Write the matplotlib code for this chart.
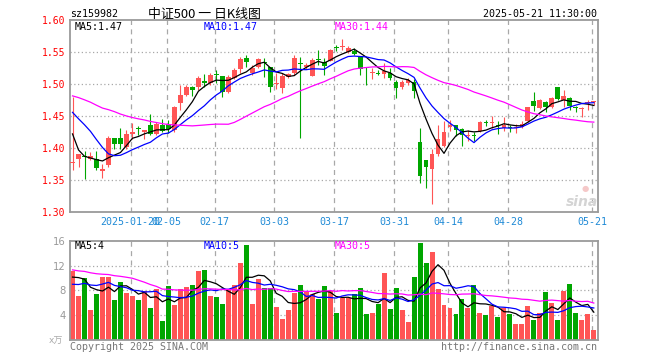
import numpy as np
import pandas as pd
import matplotlib
matplotlib.use('Agg')
import matplotlib.pyplot as plt

# ---------------- data ----------------
opens = [1.377, 1.383, 1.388, 1.383, 1.383, 1.3635, 1.373, 1.415, 1.415, 1.401,
         1.4225, 1.430, 1.425, 1.4355, 1.422, 1.4355, 1.4375, 1.428, 1.471, 1.483,
         1.4958, 1.495, 1.5047, 1.501, 1.5155, 1.5125, 1.488, 1.509, 1.523, 1.540,
         1.517, 1.526, 1.5345, 1.526, 1.500, 1.494, 1.511, 1.517, 1.532, 1.527,
         1.513, 1.5385, 1.5344, 1.5365, 1.5575, 1.558, 1.550, 1.551, 1.542, 1.5255,
         1.517, 1.5165, 1.5156, 1.517, 1.503, 1.495, 1.501, 1.503, 1.410, 1.382,
         1.367, 1.390, 1.4036, 1.4323, 1.4355, 1.430, 1.418, 1.4198, 1.426, 1.4395,
         1.4385, 1.4355, 1.4315, 1.4328, 1.4318, 1.4323, 1.4427, 1.474, 1.4625, 1.472,
         1.464, 1.4953, 1.4755, 1.478, 1.463, 1.461, 1.470, 1.4715]
highs = [1.480, 1.391, 1.396, 1.394, 1.396, 1.3755, 1.419, 1.415, 1.431, 1.428,
         1.4385, 1.4345, 1.428, 1.4525, 1.440, 1.445, 1.444, 1.4655, 1.498, 1.4985,
         1.4975, 1.5125, 1.516, 1.5167, 1.522, 1.513, 1.514, 1.5255, 1.5427, 1.545,
         1.530, 1.5406, 1.5406, 1.526, 1.5165, 1.517, 1.517, 1.545, 1.542, 1.533,
         1.5406, 1.5536, 1.5406, 1.555, 1.5615, 1.571, 1.5589, 1.556, 1.543, 1.527,
         1.525, 1.5214, 1.533, 1.525, 1.507, 1.5068, 1.510, 1.508, 1.431, 1.382,
         1.398, 1.4354, 1.4417, 1.4443, 1.4365, 1.431, 1.4287, 1.4245, 1.4427, 1.4432,
         1.4505, 1.4427, 1.4484, 1.4365, 1.438, 1.4417, 1.464, 1.4875, 1.477, 1.473,
         1.479, 1.4953, 1.4906, 1.479, 1.4651, 1.4635, 1.4745, 1.474]
lows = [1.365, 1.370, 1.351, 1.381, 1.365, 1.353, 1.370, 1.399, 1.399, 1.398,
        1.4135, 1.420, 1.4136, 1.420, 1.420, 1.4255, 1.424, 1.4255, 1.460, 1.481,
        1.4805, 1.4905, 1.496, 1.4985, 1.501, 1.480, 1.4855, 1.508, 1.5167, 1.527,
        1.5146, 1.525, 1.5104, 1.488, 1.492, 1.486, 1.5095, 1.514, 1.415, 1.5234,
        1.512, 1.530, 1.5146, 1.5354, 1.551, 1.5536, 1.5484, 1.5448, 1.5135, 1.4985,
        1.5083, 1.5135, 1.509, 1.507, 1.478, 1.4927, 1.4985, 1.478, 1.345, 1.338,
        1.3125, 1.387, 1.4016, 1.426, 1.418, 1.4026, 1.4104, 1.4104, 1.4245, 1.435,
        1.4313, 1.4224, 1.426, 1.4245, 1.4234, 1.431, 1.440, 1.4573, 1.461, 1.4562,
        1.4625, 1.4755, 1.4646, 1.459, 1.4562, 1.4484, 1.459, 1.4677]
closes = [1.378, 1.390, 1.386, 1.387, 1.368, 1.3677, 1.415, 1.407, 1.407, 1.422,
          1.425, 1.429, 1.4276, 1.422, 1.4375, 1.427, 1.429, 1.4635, 1.483, 1.4958,
          1.4906, 1.510, 1.501, 1.514, 1.5145, 1.488, 1.5115, 1.522, 1.539, 1.534,
          1.5245, 1.539, 1.5335, 1.496, 1.501, 1.513, 1.5155, 1.540, 1.531, 1.530,
          1.538, 1.5375, 1.5276, 1.5536, 1.5565, 1.559, 1.556, 1.547, 1.524, 1.5245,
          1.5175, 1.5158, 1.5208, 1.509, 1.494, 1.503, 1.506, 1.489, 1.357, 1.371,
          1.3906, 1.4146, 1.425, 1.4365, 1.4287, 1.421, 1.421, 1.4188, 1.4406, 1.4385,
          1.4393, 1.4345, 1.4365, 1.4318, 1.4323, 1.4375, 1.4635, 1.4661, 1.4755, 1.4635,
          1.478, 1.4771, 1.4818, 1.4651, 1.462, 1.462, 1.4714, 1.4719]
volumes = [11.18, 7.1, 10.0, 4.84, 7.42, 10.1, 10.2, 6.45, 9.35, 7.58,
           7.15, 6.45, 7.9, 5.16, 8.17, 3.12, 8.7, 5.65, 8.23, 8.5,
           8.87, 11.13, 11.3, 7.1, 6.94, 5.8, 8.17, 8.82, 12.42, 15.32,
           5.8, 9.84, 8.33, 8.33, 5.32, 3.39, 4.84, 7.58, 8.87, 7.9,
           7.42, 6.6, 8.7, 7.9, 4.4, 6.72, 6.72, 7.37, 8.39, 4.19,
           4.35, 5.8, 10.8, 5.0, 8.39, 4.84, 2.9, 10.16, 15.65, 12.42,
           14.19, 8.23, 5.65, 5.16, 4.19, 6.6, 5.16, 8.87, 4.35, 4.03,
           5.54, 3.7, 5.16, 4.19, 2.58, 2.58, 5.48, 3.23, 4.35, 7.74,
           5.97, 3.23, 7.9, 9.03, 4.35, 3.23, 4.19, 1.61]

# estimated closes / volumes of the 29 sessions before the window (only feed the MAs)
prior_closes = [1.47, 1.49, 1.50, 1.51, 1.50, 1.49, 1.50, 1.52, 1.51, 1.50,
                1.49, 1.48, 1.49, 1.49, 1.48, 1.47, 1.48,
                1.50, 1.51, 1.506,
                1.49, 1.48, 1.49, 1.497, 1.49,
                1.515, 1.436, 1.400, 1.381]
prior_volumes = [12, 12.5, 11.5, 12, 12.5, 11.7, 12, 12.5, 12, 12,
                 16, 17.5, 16.5, 17, 16.3,
                 9.5, 8.5, 9.2, 9.0, 9.0,
                 7.5, 8.0, 7.6, 8.2, 7.8,
                 7.5, 11.3, 11.3, 9.4]

holidays = ['2025-01-28', '2025-01-29', '2025-01-30', '2025-01-31', '2025-02-03',
            '2025-02-04', '2025-04-04', '2025-05-01', '2025-05-02', '2025-05-05']
tick_dates = ['2025-01-20', '2025-02-05', '2025-02-17', '2025-03-03', '2025-03-17',
              '2025-03-31', '2025-04-14', '2025-04-28', '2025-05-21']
tick_labels = ['2025-01-20', '02-05', '02-17', '03-03', '03-17',
               '03-31', '04-14', '04-28', '05-21']

code = 'sz159982'
title = '中证500 一 日K线图'
stamp = '2025-05-21 11:30:00'

# ---------------- derived ----------------
dates = [d for d in pd.bdate_range('2025-01-06', '2025-05-21').strftime('%Y-%m-%d')
         if d not in holidays]
n = len(closes)
x = np.arange(n)
o = np.array(opens); c = np.array(closes); h = np.array(highs); l = np.array(lows)
v = np.array(volumes)

def ma(prior, vals, k):
    s = pd.Series(list(prior) + list(vals)).rolling(k).mean().to_numpy()
    return s[len(prior):]

ma5, ma10, ma30 = ma(prior_closes, closes, 5), ma(prior_closes, closes, 10), ma(prior_closes, closes, 30)
vma5, vma10, vma30 = ma(prior_volumes, volumes, 5), ma(prior_volumes, volumes, 10), ma(prior_volumes, volumes, 30)

RED = '#ff5555'
GREEN = '#00a600'
up = c >= o
cols = np.where(up, RED, GREEN)

W, H = 660, 360
fig = plt.figure(figsize=(W / 100, H / 100), dpi=100)
def fx(px): return px / W
def fy(py): return 1 - py / H

L_, R_ = 70, 598
ax1 = fig.add_axes([fx(L_), fy(212), fx(R_) - fx(L_), fy(20) - fy(212)])
ax2 = fig.add_axes([fx(L_), fy(340), fx(R_) - fx(L_), fy(240.7) - fy(340)])

SP = '#9a9a9a'
GRID = '#a8a8a8'
tick_pos = [dates.index(d) - 0.3 for d in tick_dates]
for ax in (ax1, ax2):
    ax.set_xlim(-0.42, n - 1 + 0.7)
    for s in ax.spines.values():
        s.set_color(SP)
        s.set_linewidth(1.3)
    ax.set_xticks(tick_pos)
    ax.tick_params(length=0)
    for t in tick_pos:
        ax.axvline(t, color=GRID, lw=0.9, ls=(0, (4, 3.5)), zorder=0)

# ----- price panel -----
ax1.set_ylim(1.30, 1.60)
pt = [1.30, 1.35, 1.40, 1.45, 1.50, 1.55, 1.60]
ax1.set_yticks(pt)
ax1.set_yticklabels([f'{p:.2f}' for p in pt], color='#ff0000',
                    fontsize=7.0, family='DejaVu Sans Mono')
for p in pt[1:-1]:
    ax1.axhline(p, color=GRID, lw=0.9, ls=(0, (1, 2)), zorder=0)
ax1.set_xticklabels(tick_labels, color='#1f8ad6', fontsize=7.2, family='DejaVu Sans Mono')
ax1.tick_params(axis='x', pad=3.5)
ax1.tick_params(axis='y', pad=3)

ax1.vlines(x, l, h, colors=cols, lw=0.8, zorder=2)
body_lo = np.minimum(o, c)
body_h = np.maximum(np.abs(c - o), 0.0016)
ax1.bar(x, body_h, 0.8, bottom=body_lo, color=cols, lw=0, zorder=3)
ax1.plot(x, ma5, color='black', lw=0.9, zorder=4)
ax1.plot(x, ma10, color='#0000ff', lw=0.9, zorder=4)
ax1.plot(x, ma30, color='#ff00ff', lw=0.9, zorder=4)

# ----- volume panel -----
ax2.set_ylim(0, 16)
vt = [4, 8, 12, 16]
ax2.set_yticks(vt)
ax2.set_yticklabels([str(t) for t in vt], color='#999999', fontsize=7.2)
ax2.set_xticklabels([])
ax2.tick_params(axis='y', pad=3)
for t in vt[:-1]:
    ax2.axhline(t, color=GRID, lw=0.9, ls=(0, (1, 2)), zorder=0)
ax2.bar(x, v, 0.83, color=cols, lw=0, zorder=2)
ax2.plot(x, vma5, color='black', lw=0.9, zorder=4)
ax2.plot(x, vma10, color='#0000ff', lw=0.9, zorder=4)
ax2.plot(x, vma30, color='#ff00ff', lw=0.9, zorder=4)

mono = 'DejaVu Sans Mono'
fs = 7.2
# header
fig.text(fx(70), fy(14), code, fontsize=fs, family=mono, va='center', ha='left')
fig.text(fx(148), fy(14), title, fontsize=9.3,
         family=['Noto Sans CJK SC', 'DejaVu Sans'], va='center', ha='left')
fig.text(fx(597), fy(14), stamp, fontsize=fs, family=mono, va='center', ha='right')

# MA legends
fig.text(fx(75), fy(27), f'MA5:{ma5[-1]:.2f}', color='black', fontsize=fs, family=mono, va='center')
fig.text(fx(204), fy(27), f'MA10:{ma10[-1]:.2f}', color='#0000ff', fontsize=fs, family=mono, va='center')
fig.text(fx(335), fy(27), f'MA30:{ma30[-1]:.2f}', color='#ff00ff', fontsize=fs, family=mono, va='center')
fig.text(fx(75), fy(246), f'MA5:{int(vma5[-1])}', color='black', fontsize=fs, family=mono, va='center')
fig.text(fx(204), fy(246), f'MA10:{int(vma10[-1])}', color='#0000ff', fontsize=fs, family=mono, va='center')
fig.text(fx(335), fy(246), f'MA30:{int(vma30[-1])}', color='#ff00ff', fontsize=fs, family=mono, va='center')

# footer
fig.text(fx(49), fy(341), 'x万', color='#aaaaaa', fontsize=6.5,
         family=['DejaVu Sans', 'Noto Sans CJK SC'], va='center')
fig.text(fx(70), fy(347), 'Copyright 2025 SINA.COM', color='#777777', fontsize=fs,
         family=mono, va='center')
fig.text(fx(597), fy(347), 'http://finance.sina.com.cn', color='#777777', fontsize=fs,
         family=mono, va='center', ha='right')

# sina watermark
fig.text(fx(582), fy(202), 'sina', color='#d4d4d4', fontsize=10, fontstyle='italic',
         fontweight='bold', ha='center', va='center')
fig.text(fx(585), fy(189), '●', color='#f5c8c8', fontsize=6, ha='center', va='center')

fig.savefig('out.png', dpi=100)
